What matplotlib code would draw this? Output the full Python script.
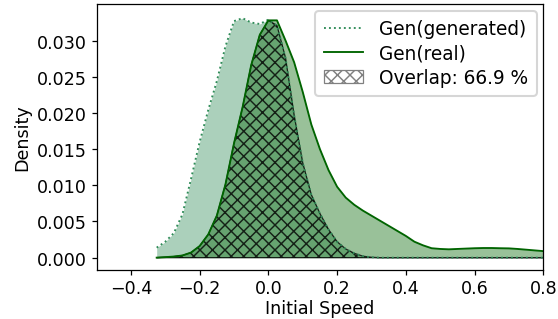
import numpy as np
import matplotlib
matplotlib.use("Agg")
import matplotlib.pyplot as plt
from matplotlib.lines import Line2D
from matplotlib.patches import Patch

# grid of initial speed values the densities were read at
speed = np.round(np.arange(-0.325, 0.8001, 0.025), 3)

dens_generated = [
    0.00138, 0.0022, 0.0034, 0.0060, 0.0109, 0.0160, 0.0204, 0.0244,
    0.0292, 0.0327, 0.0331, 0.0325, 0.0323, 0.0329, 0.0321, 0.0276,
    0.0197, 0.0131, 0.0087, 0.0061, 0.0039, 0.0022, 0.0012, 0.0006,
    0.0002, 0.00005, 0.0, 0.0, 0.0, 0.0, 0.0, 0.0,
    0.0, 0.0, 0.0, 0.0, 0.0, 0.0, 0.0, 0.0,
    0.0, 0.0, 0.0, 0.0, 0.0, 0.0,
]
dens_real = [
    0.0, 0.00007, 0.00015, 0.0003, 0.0007, 0.0016, 0.0032, 0.0058,
    0.0101, 0.0158, 0.0208, 0.0266, 0.0308, 0.0328, 0.0328, 0.0300,
    0.0270, 0.0229, 0.0184, 0.0150, 0.0121, 0.0098, 0.0083, 0.0073,
    0.0065, 0.0058, 0.0051, 0.0044, 0.0037, 0.0030, 0.0022, 0.0017,
    0.0013, 0.0012, 0.00115, 0.0012, 0.00125, 0.0013, 0.00133, 0.00133,
    0.0013, 0.00128, 0.0012, 0.0011, 0.0010, 0.0009,
]
overlap_pct = 66.9

xticks = [-0.4, -0.2, 0.0, 0.2, 0.4, 0.6, 0.8]
yticks = [0.000, 0.005, 0.010, 0.015, 0.020, 0.025, 0.030]

plt.rcParams['font.family'] = ['DejaVu Sans']
plt.rcParams['hatch.linewidth'] = 0.7

gen = np.array(dens_generated)
real = np.array(dens_real)
overlap = np.minimum(gen, real)

fig = plt.figure(figsize=(3.72, 2.1333), dpi=150)
ax = fig.add_axes([0.173, 0.154, 0.8007, 0.829])

ax.fill_between(speed, 0, gen, color='seagreen', alpha=0.4, lw=0)
ax.fill_between(speed, 0, real, color='darkgreen', alpha=0.4, lw=0)
ax.fill_between(speed, 0, overlap, facecolor='none', edgecolor='black',
                hatch='xxxx', alpha=0.8, lw=0.6)
ax.plot(speed, gen, color='seagreen', ls=':', lw=0.9)
ax.plot(speed, real, color='darkgreen', lw=0.9)

ax.set_xlim(-0.5, 0.8)
ax.set_ylim(-0.00167, 0.0350)
ax.set_xticks(xticks)
ax.set_yticks(yticks)
ax.set_yticklabels([f"{t:.3f}" for t in yticks])
ax.tick_params(labelsize=8.4, length=2.5, width=0.6, pad=2)
ax.set_xlabel("Initial Speed", fontsize=8.4, labelpad=1)
ax.set_ylabel("Density", fontsize=8.4, labelpad=3)
for s in ax.spines.values():
    s.set_linewidth(0.6)

handles = [
    Line2D([], [], color='seagreen', ls=':', lw=0.9),
    Line2D([], [], color='darkgreen', lw=0.9),
    Patch(facecolor='white', edgecolor='gray', hatch='xxxx', lw=0.6),
]
labels = ["Gen(generated)", "Gen(real)", f"Overlap: {overlap_pct} %"]
ax.legend(handles, labels, loc='upper right', fontsize=8.9,
          handlelength=2.1, borderpad=0.45, labelspacing=0.3,
          handletextpad=0.9, borderaxespad=0.35)

fig.savefig("out.png", dpi=150)
